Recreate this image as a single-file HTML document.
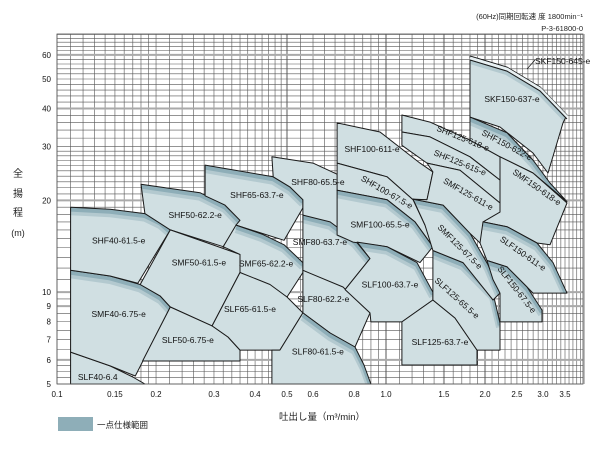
<!DOCTYPE html>
<html><head><meta charset="utf-8"><style>
body{margin:0;background:#fff;}
svg{display:block;font-family:"Liberation Sans","Noto Sans CJK JP",sans-serif;}
</style></head><body>
<svg id="chart" width="600" height="450" viewBox="0 0 600 450" xmlns="http://www.w3.org/2000/svg">
<g id="grid"></g>
<g id="regions"></g>
<g id="labels"></g>
<g id="axes"></g>
<text x="583" y="19" font-size="7.5" text-anchor="end" fill="#222">(60Hz)同期回転速 度 1800min⁻¹</text>
<text x="583" y="31" font-size="7.5" text-anchor="end" fill="#222">P-3-61800-0</text>
<text x="18" y="177" font-size="10" text-anchor="middle" fill="#222">全</text>
<text x="18" y="197" font-size="10" text-anchor="middle" fill="#222">揚</text>
<text x="18" y="216" font-size="10" text-anchor="middle" fill="#222">程</text>
<text x="18" y="236" font-size="9" text-anchor="middle" fill="#222">(m)</text>
<text x="279" y="420" font-size="9.5" fill="#222">吐出し量（m³/min）</text>
<rect x="58" y="417" width="35" height="14" fill="#8eaeb8"/>
<text x="97" y="428" font-size="8.5" fill="#222">一点仕様範囲</text>
</svg>
<script>
const xTicks=[0.1,0.15,0.2,0.3,0.4,0.5,0.6,0.8,1.0,1.5,2.0,2.5,3.0,3.5];
const xTickLabels=["0.1","0.15","0.2","0.3","0.4","0.5","0.6","0.8","1.0","1.5","2.0","2.5","3.0","3.5"];
const yTicks=[5,6,7,8,9,10,20,30,40,50,60];
const yTickLabels=["5","6","7","8","9","10","20","30","40","50","60"];
const regionNames=["SLF40-6.4","SMF40-6.75-e","SHF40-61.5-e","SHF50-62.2-e","SMF50-61.5-e","SLF50-6.75-e","SHF65-63.7-e","SMF65-62.2-e","SLF65-61.5-e","SHF80-65.5-e","SMF80-63.7-e","SLF80-62.2-e","SLF80-61.5-e","SHF100-611-e","SHF100-67.5-e","SMF100-65.5-e","SLF100-63.7-e","SLF125-63.7-e","SLF125-65.5-e","SMF125-67.5-e","SHF125-618-e","SHF125-615-e","SMF125-611-e","SKF150-637-e","SHF150-622-e","SMF150-618-e","SLF150-611-e","SLF150-67.5-e"];
const regionPoints=[
[[0.110,6.36],[0.145,5.73],[0.170,5.27],[0.185,5.0],[0.110,5.0]],
[[0.110,11.8],[0.145,11.3],[0.179,10.6],[0.206,9.71],[0.221,8.94],[0.173,5.31],[0.145,5.73],[0.110,6.36]],
[[0.110,19.0],[0.145,18.7],[0.185,18.1],[0.206,17.1],[0.221,16.0],[0.176,10.7],[0.145,11.3],[0.110,11.8]],
[[0.180,22.6],[0.272,21.2],[0.324,19.3],[0.360,17.2],[0.320,14.1],[0.221,16.0],[0.185,18.1]],
[[0.221,16.0],[0.360,13.3],[0.360,11.6],[0.296,7.75],[0.221,8.94],[0.206,9.71],[0.179,10.6]],
[[0.221,8.94],[0.296,7.75],[0.331,7.13],[0.360,6.46],[0.360,5.95],[0.182,5.95]],
[[0.282,26.1],[0.454,23.9],[0.511,22.1],[0.559,20.1],[0.559,18.9],[0.490,14.8],[0.350,16.6],[0.360,17.2],[0.324,19.3],[0.282,20.7]],
[[0.350,16.6],[0.420,15.5],[0.490,14.3],[0.559,12.5],[0.559,11.6],[0.500,9.64],[0.360,11.6],[0.360,13.3],[0.320,14.1]],
[[0.360,11.6],[0.444,10.6],[0.500,9.64],[0.559,8.55],[0.476,6.46],[0.360,6.46],[0.331,7.13],[0.296,7.75]],
[[0.450,27.8],[0.600,26.5],[0.751,23.7],[0.863,20.8],[0.805,14.8],[0.725,16.2],[0.559,17.9],[0.559,20.1],[0.511,22.1],[0.454,23.9]],
[[0.559,17.9],[0.676,17.0],[0.805,14.8],[0.894,12.9],[0.751,10.2],[0.559,11.8]],
[[0.559,11.8],[0.740,10.4],[0.894,8.55],[0.805,6.61],[0.676,7.35],[0.559,8.55]],
[[0.559,8.55],[0.676,7.35],[0.805,6.61],[0.857,5.77],[0.900,5.0],[0.450,5.0],[0.450,6.46],[0.476,6.46]],
[[0.710,35.9],[0.959,33.5],[1.269,26.5],[1.389,24.8],[1.332,20.1],[1.208,20.1],[1.007,23.9],[0.710,26.5]],
[[0.710,26.5],[1.007,23.9],[1.208,20.1],[1.314,16.6],[1.389,14.1],[1.225,17.0],[1.007,20.1],[0.710,21.6]],
[[0.710,21.6],[1.007,20.1],[1.225,17.0],[1.389,14.1],[1.269,12.5],[1.007,14.1],[0.794,14.6],[0.710,15.4]],
[[0.817,14.6],[1.007,14.1],[1.242,12.5],[1.389,10.0],[1.389,9.43],[1.118,7.99],[0.900,7.99],[0.894,8.55],[0.751,10.2],[0.894,12.9]],
[[1.118,7.99],[1.389,9.43],[1.621,8.23],[1.891,6.46],[1.891,5.77],[1.118,5.77]],
[[1.389,13.7],[1.714,12.5],[2.115,9.93],[2.221,7.92],[2.221,6.46],[1.891,6.46],[1.621,8.23],[1.389,9.43]],
[[1.208,20.2],[1.491,19.3],[1.800,15.6],[2.042,12.3],[2.221,9.93],[2.115,9.43],[1.714,12.5],[1.389,13.7],[1.314,16.6]],
[[1.118,38.1],[1.361,36.1],[1.800,31.5],[2.221,27.8],[2.221,23.3],[1.800,27.8],[1.361,32.3],[1.118,33.5]],
[[1.118,33.5],[1.361,32.3],[1.800,27.8],[2.221,23.3],[2.221,19.6],[1.679,25.1],[1.332,26.5],[1.118,30.3]],
[[1.332,26.5],[1.679,25.1],[2.221,19.6],[2.221,18.3],[1.931,14.5],[1.800,15.6],[1.491,19.3],[1.208,20.2],[1.332,20.1],[1.389,24.8]],
[[1.800,59.5],[2.333,54.7],[2.938,47.1],[3.549,38.1],[3.451,35.9],[3.108,24.6],[2.798,28.6],[2.221,34.8],[1.800,37.5]],
[[1.800,37.5],[2.333,33.3],[2.798,27.1],[3.151,22.8],[3.549,19.8],[2.798,24.6],[2.221,27.8],[1.800,31.5]],
[[2.221,27.8],[2.798,24.6],[3.549,19.6],[3.151,14.3],[2.877,14.5],[2.333,16.4],[1.972,17.0],[2.221,18.3]],
[[1.972,17.0],[2.333,16.4],[2.877,14.5],[3.218,12.5],[3.549,9.93],[2.798,9.93],[2.683,10.4],[2.333,12.1],[2.028,12.7],[1.931,14.5]],
[[2.028,12.7],[2.333,12.1],[2.683,10.4],[2.980,8.74],[2.980,7.99],[2.221,7.99],[2.221,9.93],[2.115,11.0]]
];
const regionTopCounts=[4,5,5,4,2,4,4,4,4,4,4,3,5,4,5,4,4,4,4,5,4,4,3,4,5,3,5,4];
const regionHasBand=[0,1,1,1,0,0,1,1,0,0,1,0,1,0,0,1,1,0,1,1,0,0,0,1,1,0,1,1];
const labelQ=[0.133,0.154,0.154,0.263,0.270,0.250,0.405,0.432,0.386,0.621,0.630,0.645,0.621,0.907,1.007,0.959,1.028,1.459,1.644,1.679,1.714,1.679,1.78,2.415,2.333,2.877,2.61,2.5];
const labelH=[5.27,8.48,14.8,17.9,12.5,6.97,20.8,12.4,8.81,23.0,14.6,9.5,6.4,29.5,21.3,16.7,10.6,6.86,9.57,14.1,32.0,26.6,21.0,43.0,30.4,22.1,13.4,10.2];
const labelAngle=[0,0,0,0,0,0,0,0,0,0,0,0,0,0,30,0,0,0,42,45,22,22,30,0,28,35,35,52];

const X0=57,X1=583,Y0=34,Y1=384;
function xs(q){return X0+329*Math.log10(q/0.1);}
function ys(h){return Y1-305*Math.log10(h/5);}
const NS="http://www.w3.org/2000/svg";
function mk(tag,parent,attrs){const e=document.createElementNS(NS,tag);for(const k in attrs)e.setAttribute(k,attrs[k]);parent.appendChild(e);return e;}

const grid=document.getElementById('grid');
const vVals=[];
for(let v=10;v<=20;v++)vVals.push(v/100);
for(let v=22;v<=50;v+=2)vVals.push(v/100);
for(let v=55;v<=100;v+=5)vVals.push(v/100);
for(let v=11;v<=40;v++)vVals.push(v/10);
const hVals=[];
for(let v=500;v<=600;v+=25)hVals.push(v/100);
for(let v=65;v<=100;v+=5)hVals.push(v/10);
for(let v=11;v<=30;v++)hVals.push(v);
for(let v=32;v<=70;v+=2)hVals.push(v);
const thickV=[0.5,1.0,1.5,2.0];
const thickH=[6,9,10,20,40,60];
vVals.forEach(v=>{const x=xs(v);const th=thickV.some(t=>Math.abs(t-v)<1e-6);
 const l=mk('line',grid,{x1:x,x2:x,y1:Y0,y2:Y1,stroke:th?'#aaa':'#555','stroke-width':th?2:0.6});
 
 });
hVals.forEach(v=>{const y=ys(v);const th=thickH.some(t=>Math.abs(t-v)<1e-6);
 const l=mk('line',grid,{x1:X0,x2:X1,y1:y,y2:y,stroke:th?'#aaa':'#555','stroke-width':th?2:0.6});
 
 });

const reg=document.getElementById('regions');
const defs=mk('defs',reg,{});
regionNames.forEach((name,i)=>{
 const pts=regionPoints[i].map(p=>[xs(p[0]),ys(p[1])]);
 const d='M'+pts.map(p=>p[0].toFixed(1)+','+p[1].toFixed(1)).join('L')+'Z';
 const g=mk('g',reg,{});
 
 
 mk('path',g,{d:d,fill:'#d0dfe2',stroke:'none'});
 if(regionHasBand[i]){
  const cp=mk('clipPath',defs,{id:'clip'+i});
  mk('path',cp,{d:d});
  const top=pts.slice(0,regionTopCounts[i]);
  const td='M'+top.map(p=>p[0].toFixed(1)+','+p[1].toFixed(1)).join('L');
  const bg=mk('g',g,{'clip-path':'url(#clip'+i+')'});
  mk('path',bg,{d:td,fill:'none',stroke:'#b3c9cf','stroke-width':8,transform:'translate(0,4)'});
  mk('path',bg,{d:td,fill:'none',stroke:'#8eaeb8','stroke-width':4.5,transform:'translate(0,2.2)'});
 }
 mk('path',g,{d:d,fill:'none',stroke:'#1a1a1a','stroke-width':1,'stroke-linejoin':'round'});
});
(function(){
 const i=23;const pts=regionPoints[i].slice(0,4).map(p=>[xs(p[0]),ys(p[1])]);
 const td='M'+pts.map(p=>p[0].toFixed(1)+','+p[1].toFixed(1)).join('L');
 const g=mk('g',reg,{});
 
 
 mk('path',g,{d:td,fill:'none',stroke:'#e8f0f2','stroke-width':3,transform:'translate(0,2)'});
 mk('path',g,{d:td,fill:'none',stroke:'#1a1a1a','stroke-width':1,transform:'translate(0,4)'});
 const t=mk('text',g,{x:535,y:64,'font-size':8.5,fill:'#111'});t.textContent='SKF150-645-e';
 mk('line',g,{x1:527,y1:69,x2:535,y2:60,stroke:'#111','stroke-width':0.7});
})();

const lab=document.getElementById('labels');
regionNames.forEach((name,i)=>{
 const x=xs(labelQ[i]),y=ys(labelH[i]);
 const t=mk('text',lab,{x:x,y:y+3,'font-size':8.5,'text-anchor':'middle',fill:'#111',transform:'rotate('+labelAngle[i]+' '+x+' '+y+')'});
 
 
 t.textContent=name;
});

const ax=document.getElementById('axes');
const fr=mk('rect',ax,{x:X0,y:Y0,width:X1-X0,height:Y1-Y0,fill:'none',stroke:'#555','stroke-width':0.8});


xTicks.forEach((v,i)=>{
 const t=mk('text',ax,{x:xs(v),y:397,'font-size':8,'text-anchor':'middle',fill:'#111'});
 
 
 t.textContent=xTickLabels[i];
});
yTicks.forEach((v,i)=>{
 const t=mk('text',ax,{x:51,y:ys(v)+3,'font-size':8,'text-anchor':'end',fill:'#111'});
 
 
 t.textContent=yTickLabels[i];
});
</script>
</body></html>
